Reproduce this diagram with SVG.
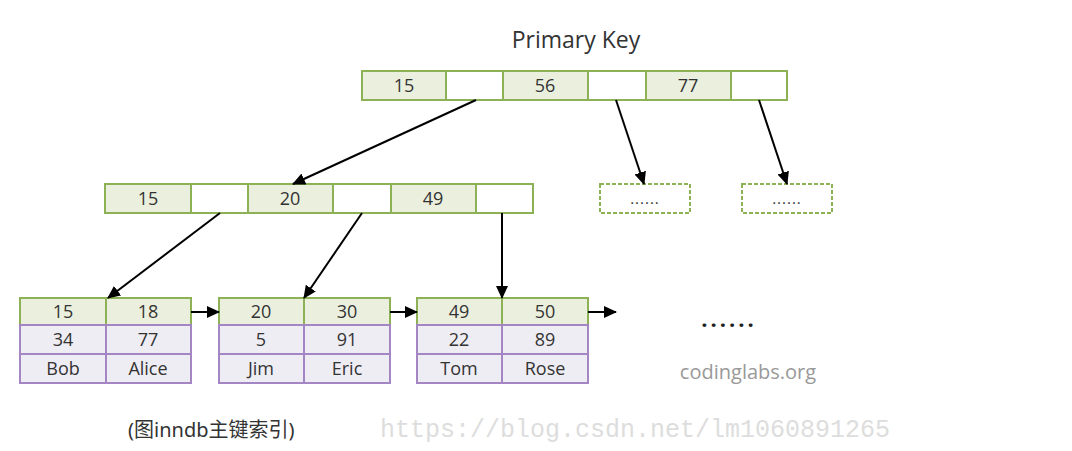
<svg xmlns="http://www.w3.org/2000/svg" width="1072" height="451" viewBox="0 0 1072 451">
<defs>
<marker id="ah" markerWidth="13" markerHeight="12" refX="12" refY="6" orient="auto" markerUnits="userSpaceOnUse">
<path d="M0,0 L13,6 L0,12 Z" fill="#000"/>
</marker>
<style>
.k{fill:#ebf0de;stroke:#8db255;stroke-width:2}
.e{fill:#fff;stroke:#8db255;stroke-width:2}
.d{fill:#fff;stroke:#8db255;stroke-width:2;stroke-dasharray:4,2}
.p{fill:#efedf4;stroke:#a586c4;stroke-width:2}
.t{font-family:"Open Sans","Noto Sans",sans-serif;font-size:18px;fill:#333;text-anchor:middle}
.c{stroke:#000;stroke-width:2;fill:none;marker-end:url(#ah)}
</style>
</defs>
<rect width="1072" height="451" fill="#fff"/>
<text x="576" y="48" class="t" style="font-size:23px">Primary Key</text>

<g id="root">
<rect x="362" y="71" width="84" height="29" class="k"/><rect x="446" y="71" width="57" height="29" class="e"/>
<rect x="503" y="71" width="85" height="29" class="k"/><rect x="588" y="71" width="58" height="29" class="e"/>
<rect x="646" y="71" width="85" height="29" class="k"/><rect x="731" y="71" width="56" height="29" class="e"/>
<text x="404" y="92" class="t">15</text><text x="545" y="92" class="t">56</text><text x="688" y="92" class="t">77</text>
</g>

<g id="mid">
<rect x="105" y="184" width="86" height="29" class="k"/><rect x="191" y="184" width="57" height="29" class="e"/>
<rect x="248" y="184" width="85" height="29" class="k"/><rect x="333" y="184" width="58" height="29" class="e"/>
<rect x="391" y="184" width="85" height="29" class="k"/><rect x="476" y="184" width="57" height="29" class="e"/>
<text x="148" y="205" class="t">15</text><text x="290" y="205" class="t">20</text><text x="433" y="205" class="t">49</text>
</g>

<g id="dash1"><rect x="600" y="184" width="90" height="29" class="d"/><text x="645" y="204" class="t" style="font-size:15px;letter-spacing:1px">......</text></g>
<g id="dash2"><rect x="742" y="184" width="90" height="29" class="d"/><text x="787" y="204" class="t" style="font-size:15px;letter-spacing:1px">......</text></g>

<g id="leaf1">
<rect x="20" y="298" width="86" height="27" class="k"/><rect x="106" y="298" width="85" height="27" class="k"/>
<rect x="20" y="325" width="86" height="29" class="p"/><rect x="106" y="325" width="85" height="29" class="p"/>
<rect x="20" y="354" width="86" height="29" class="p"/><rect x="106" y="354" width="85" height="29" class="p"/>
<text x="63" y="318" class="t">15</text><text x="148" y="318" class="t">18</text>
<text x="63" y="346" class="t">34</text><text x="148" y="346" class="t">77</text>
<text x="63" y="375" class="t">Bob</text><text x="148" y="375" class="t">Alice</text>
</g>
<g id="leaf2">
<rect x="219" y="298" width="85" height="27" class="k"/><rect x="304" y="298" width="86" height="27" class="k"/>
<rect x="219" y="325" width="85" height="29" class="p"/><rect x="304" y="325" width="86" height="29" class="p"/>
<rect x="219" y="354" width="85" height="29" class="p"/><rect x="304" y="354" width="86" height="29" class="p"/>
<text x="261" y="318" class="t">20</text><text x="347" y="318" class="t">30</text>
<text x="261" y="346" class="t">5</text><text x="347" y="346" class="t">91</text>
<text x="261" y="375" class="t">Jim</text><text x="347" y="375" class="t">Eric</text>
</g>
<g id="leaf3">
<rect x="417" y="298" width="85" height="27" class="k"/><rect x="502" y="298" width="86" height="27" class="k"/>
<rect x="417" y="325" width="85" height="29" class="p"/><rect x="502" y="325" width="86" height="29" class="p"/>
<rect x="417" y="354" width="85" height="29" class="p"/><rect x="502" y="354" width="86" height="29" class="p"/>
<text x="459" y="318" class="t">49</text><text x="545" y="318" class="t">50</text>
<text x="459" y="346" class="t">22</text><text x="545" y="346" class="t">89</text>
<text x="459" y="375" class="t">Tom</text><text x="545" y="375" class="t">Rose</text>
</g>

<g id="connectors">
<line x1="476" y1="100" x2="293" y2="184" class="c"/>
<line x1="616" y1="100" x2="644" y2="184" class="c"/>
<line x1="759" y1="100" x2="787" y2="184" class="c"/>
<line x1="220" y1="213" x2="108" y2="298" class="c"/>
<line x1="362" y1="213" x2="304" y2="298" class="c"/>
<line x1="502" y1="213" x2="502" y2="298" class="c"/>
<line x1="191" y1="312" x2="219" y2="312" class="c"/>
<line x1="390" y1="312" x2="417" y2="312" class="c"/>
<line x1="588" y1="312" x2="616" y2="312" class="c"/>
</g>

<text x="729" y="327" class="t" style="font-size:22px;font-weight:bold;fill:#222;letter-spacing:3px">......</text>
<text x="748" y="379" class="t" style="font-size:20px;fill:#999">codinglabs.org</text>
<text x="128" y="437" style="font-family:'Noto Sans','Noto Sans CJK SC',sans-serif;font-size:20px;fill:#333">(图inndb主键索引)</text>
<text x="380" y="437" style="font-family:'Liberation Mono',monospace;font-size:25px;fill:#ddd">https://blog.csdn.net/lm1060891265</text>
</svg>
